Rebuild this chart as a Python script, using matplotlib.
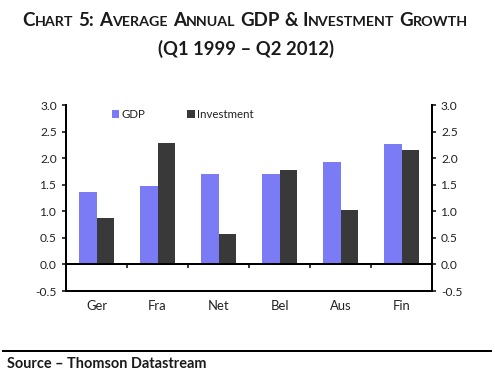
import matplotlib
matplotlib.use('Agg')
import matplotlib.pyplot as plt
import numpy as np
from matplotlib.transforms import IdentityTransform
from matplotlib.lines import Line2D

categories = ['Ger', 'Fra', 'Net', 'Bel', 'Aus', 'Fin']
gdp = [1.37, 1.47, 1.70, 1.71, 1.93, 2.26]
investment = [0.88, 2.29, 0.57, 1.78, 1.02, 2.15]
yticks = [-0.5, 0.0, 0.5, 1.0, 1.5, 2.0, 2.5, 3.0]
title_line1 = 'Chart 5: Average Annual GDP & Investment Growth'
title_line2 = '(Q1 1999 \u2013 Q2 2012)'
source_text = 'Source \u2013 Thomson Datastream'

W, H, DPI = 495, 375, 72
plt.rcParams['font.family'] = ['Lato', 'DejaVu Sans']
TXT = '#222222'

fig = plt.figure(figsize=(W / DPI, H / DPI), dpi=DPI)
L, R, T, B = 66, 432, 105, 291
ax = fig.add_axes([L / W, 1 - B / H, (R - L) / W, (B - T) / H])

x = np.arange(len(categories))
bw = 0.28
ax.bar(x - bw / 2, gdp, bw, color='#7b7bf5', label='GDP')
ax.bar(x + bw / 2, investment, bw, color='#393939', label='Investment')

ax.set_xlim(-0.5, len(categories) - 0.5)
ax.set_ylim(-0.5, 3.0)
ax.set_yticks(yticks)
ax.set_yticklabels([f'{v:.1f}' for v in yticks])
ax.set_xticks(x)
ax.set_xticklabels(categories)
ax.set_xticks(x[:-1] + 0.5, minor=True)

for s in ['left', 'right', 'bottom', 'top']:
    ax.spines[s].set_linewidth(2)
    ax.spines[s].set_color('black')
ax.spines['top'].set_position(('data', 0))

ax.tick_params(axis='y', which='major', left=True, right=True, labelleft=True,
               labelright=True, direction='out', length=4, width=1.5,
               labelsize=12, labelcolor=TXT, pad=5)
ax.tick_params(axis='x', which='major', bottom=True, top=False, length=0,
               labelsize=13, labelcolor=TXT, pad=9)
ax.tick_params(axis='x', which='minor', bottom=False, top=True, direction='in',
               length=4, width=1.5)

ax.legend(loc='upper left', bbox_to_anchor=((112 - L) / (R - L), 0.98), ncol=2,
          frameon=False, handlelength=0.65, handleheight=0.65, handletextpad=0.2,
          columnspacing=3.6, fontsize=11.5, borderaxespad=0, borderpad=0,
          labelcolor=TXT)


def small_caps(fig, text, cx, baseline, big, small, color):
    r = fig.canvas.get_renderer()
    words = text.split(' ')
    space = 0.26 * big
    xx = 0.0
    arts = []
    for wi, w in enumerate(words):
        if wi > 0:
            xx += space
        runs = []
        for ch in w:
            sm = ch.islower()
            if runs and runs[-1][1] == sm:
                runs[-1][0] += ch.upper()
            else:
                runs.append([ch.upper(), sm])
        for s, sm in runs:
            t = fig.text(xx, baseline, s, fontsize=small if sm else big,
                         fontweight='bold', transform=IdentityTransform(),
                         va='baseline', ha='left', color=color)
            bb = t.get_window_extent(r)
            xx += bb.width
            arts.append(t)
    off = cx - xx / 2
    for t in arts:
        px, py = t.get_position()
        t.set_position((px + off, py))


small_caps(fig, title_line1, 245.5, H - 25.7, 18.8, 14.2, '#1a1a1a')
fig.text(246, H - 54.5, title_line2, fontsize=18.5, fontweight='bold',
         transform=IdentityTransform(), ha='center', va='baseline', color='#1a1a1a')

fig.add_artist(Line2D([3 / W, 491 / W], [1 - 351 / H] * 2, transform=fig.transFigure,
                      color='black', linewidth=2))
fig.text(7 / W, 1 - 367.5 / H, source_text, fontsize=14.5, fontweight='bold',
         ha='left', va='baseline', color='#1a1a1a')

fig.savefig('out.png', dpi=DPI)
